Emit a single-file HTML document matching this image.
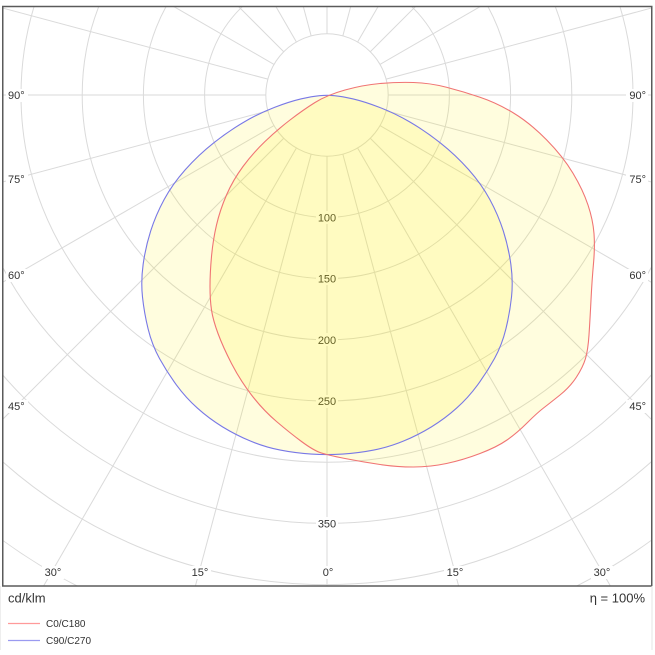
<!DOCTYPE html>
<html>
<head>
<meta charset="utf-8">
<style>
  html, body { margin: 0; padding: 0; background: #ffffff; width: 655px; height: 655px; overflow: hidden; }
  svg { display: block; }
  text { font-family: "Liberation Sans", "DejaVu Sans", sans-serif; fill: #333333; }
</style>
</head>
<body>
<svg width="655" height="655" viewBox="0 0 655 655" xmlns="http://www.w3.org/2000/svg">
  <defs>
    <clipPath id="frame">
      <rect x="3" y="7" width="648" height="579"/>
    </clipPath>
    <path id="blue" d="M319.55,95.65 Q327,95 334.45,95.65 Q341.9,96.3 353.15,98.95 Q364.4,101.6 379.5,107.35 Q394.6,113.1 409.65,121.85 Q424.7,130.6 440.2,142.8 Q455.7,155 468.65,169.65 Q481.6,184.3 489.9,199.6 Q498.2,214.9 503.35,231.1 Q508.5,247.3 510.85,264.25 Q513.2,281.2 511.5,297.05 Q509.8,312.9 505.9,328.9 Q502,344.9 494.5,358.5 Q487,372.1 477.6,384.9 Q468.2,397.7 456.5,408.2 Q444.8,418.7 431.45,426.85 Q418.1,435 403.6,441.05 Q389.1,447.1 373.7,450.1 Q358.3,453.1 342.65,454.05 Q327,455 311.35,454.05 Q295.7,453.1 280.3,450.1 Q264.9,447.1 250.4,441.05 Q235.9,435 222.55,426.85 Q209.2,418.7 197.5,408.2 Q185.8,397.7 176.4,384.9 Q167,372.1 159.5,358.5 Q152,344.9 148.1,328.9 Q144.2,312.9 142.5,297.05 Q140.8,281.2 143.15,264.25 Q145.5,247.3 150.65,231.1 Q155.8,214.9 164.1,199.6 Q172.4,184.3 185.35,169.65 Q198.3,155 213.8,142.8 Q229.3,130.6 244.35,121.85 Q259.4,113.1 274.5,107.35 Q289.6,101.6 300.85,98.95 Q312.1,96.3 319.55,95.65 Z"/>
    <path id="red" d="M315,102.5 Q327,95 345,90 Q363,85 380,83.5 Q397,82 413.5,82.5 Q430,83 446.5,87.25 Q463,91.5 480,97.25 Q497,103 513.5,113 Q530,123 546.5,139.75 Q563,156.5 573,173.25 Q583,190 588,205 Q593,220 594,233.5 Q595,247 593.5,263.5 Q592,280 591,300 Q590,320 589,335 Q588,350 585.5,358.5 Q583,367 576.5,377 Q570,387 560,395 Q550,403 543.5,408 Q537,413 527,423 Q517,433 507,440 Q497,447 480,453.5 Q463,460 446.5,463.5 Q430,467 413.5,467 Q397,467 380,464.5 Q363,462 345,458.5 Q327,455 320,452.5 Q313,450 301.5,441.5 Q290,433 276.5,421.5 Q263,410 251.5,395 Q240,380 231.5,363.5 Q223,347 218,333.5 Q213,320 211.5,310 Q210,300 210,286.5 Q210,273 211.5,256.5 Q213,240 216.5,225 Q220,210 226.5,195 Q233,180 243,166.5 Q253,153 265,141.5 Q277,130 290,120 Q303,110 315,102.5 Z"/>
  </defs>
  <rect x="0" y="0" width="655" height="655" fill="#ffffff"/>

  <g clip-path="url(#frame)">
    <!-- grid -->
    <g transform="translate(327,95)" stroke="#dadada" stroke-width="1" fill="none">
      <circle cx="0" cy="0" r="61.2"/>
      <circle cx="0" cy="0" r="122.4"/>
      <circle cx="0" cy="0" r="183.6"/>
      <circle cx="0" cy="0" r="244.8"/>
      <circle cx="0" cy="0" r="306"/>
      <circle cx="0" cy="0" r="367.2"/>
      <circle cx="0" cy="0" r="428.4"/>
      <circle cx="0" cy="0" r="489.6"/>
      <circle cx="0" cy="0" r="550.8"/>

      <line x1="0" y1="61.2" x2="0" y2="492"/>
      <line x1="15.84" y1="59.11" x2="131.9" y2="492"/>
      <line x1="-15.84" y1="59.11" x2="-131.9" y2="492"/>
      <line x1="30.6" y1="53" x2="284" y2="492"/>
      <line x1="-30.6" y1="53" x2="-284" y2="492"/>
      <line x1="43.27" y1="43.27" x2="325" y2="325"/>
      <line x1="-43.27" y1="43.27" x2="-325" y2="325"/>
      <line x1="53" y1="30.6" x2="325" y2="187.6"/>
      <line x1="-53" y1="30.6" x2="-325" y2="187.6"/>
      <line x1="59.11" y1="15.84" x2="325" y2="87.1"/>
      <line x1="-59.11" y1="15.84" x2="-325" y2="87.1"/>
      <line x1="61.2" y1="0" x2="325" y2="0"/>
      <line x1="-61.2" y1="0" x2="-325" y2="0"/>
      <line x1="59.11" y1="-15.84" x2="325" y2="-87.1"/>
      <line x1="-59.11" y1="-15.84" x2="-325" y2="-87.1"/>
      <line x1="53" y1="-30.6" x2="154.2" y2="-89"/>
      <line x1="-53" y1="-30.6" x2="-154.2" y2="-89"/>
      <line x1="43.27" y1="-43.27" x2="89" y2="-89"/>
      <line x1="-43.27" y1="-43.27" x2="-89" y2="-89"/>
      <line x1="30.6" y1="-53" x2="51.4" y2="-89"/>
      <line x1="-30.6" y1="-53" x2="-51.4" y2="-89"/>
      <line x1="15.84" y1="-59.11" x2="23.85" y2="-89"/>
      <line x1="-15.84" y1="-59.11" x2="-23.85" y2="-89"/>
      <line x1="0" y1="-61.2" x2="0" y2="-89"/>
    </g>

    <!-- value labels -->
    <g fill="#ffffff">
      <rect x="316" y="211" width="22" height="13"/>
      <rect x="316" y="272" width="22" height="13"/>
      <rect x="316" y="333" width="22" height="13"/>
      <rect x="316" y="395" width="22" height="13"/>
      <rect x="316" y="517" width="22" height="13"/>
    </g>
    <g font-size="11" text-anchor="middle">
      <text x="327" y="221.5">100</text>
      <text x="327" y="282.7">150</text>
      <text x="327" y="343.9">200</text>
      <text x="327" y="405.1">250</text>
      <text x="327" y="527.6">350</text>
    </g>

    <!-- angle labels -->
    <g fill="#ffffff">
      <rect x="6" y="89" width="22" height="13"/>
      <rect x="6" y="173" width="22" height="13"/>
      <rect x="6" y="269" width="22" height="13"/>
      <rect x="6" y="400" width="22" height="13"/>
      <rect x="626" y="89" width="22" height="13"/>
      <rect x="626" y="173" width="22" height="13"/>
      <rect x="626" y="269" width="22" height="13"/>
      <rect x="626" y="400" width="22" height="13"/>
      <rect x="42" y="566" width="22" height="13"/>
      <rect x="189" y="566" width="22" height="13"/>
      <rect x="320" y="566" width="15" height="13"/>
      <rect x="444" y="566" width="22" height="13"/>
      <rect x="591" y="566" width="22" height="13"/>
    </g>
    <g font-size="11">
      <text x="8" y="99">90°</text>
      <text x="8" y="183">75°</text>
      <text x="8" y="279">60°</text>
      <text x="8" y="410">45°</text>
      <text x="646" y="99" text-anchor="end">90°</text>
      <text x="646" y="183" text-anchor="end">75°</text>
      <text x="646" y="279" text-anchor="end">60°</text>
      <text x="646" y="410" text-anchor="end">45°</text>
      <text x="53" y="576" text-anchor="middle">30°</text>
      <text x="200" y="576" text-anchor="middle">15°</text>
      <text x="328" y="576" text-anchor="middle">0°</text>
      <text x="455" y="576" text-anchor="middle">15°</text>
      <text x="602" y="576" text-anchor="middle">30°</text>
    </g>

    <!-- fills -->
    <use href="#blue" fill="rgb(255,240,0)" fill-opacity="0.13" stroke="none"/>
    <use href="#red" fill="rgb(255,240,0)" fill-opacity="0.13" stroke="none"/>

    <!-- outlines -->
    <use href="#blue" fill="none" stroke="#7878e6" stroke-width="1.1"/>
    <use href="#red" fill="none" stroke="#f07474" stroke-width="1.1"/>
  </g>

  <!-- frame -->
  <rect x="2.75" y="6.5" width="649" height="579.5" fill="none" stroke="#5a5a5a" stroke-width="1.5"/>
  <line x1="652" y1="586" x2="652" y2="650" stroke="#e6e6e6" stroke-width="1"/>
  <line x1="0.5" y1="586" x2="0.5" y2="650" stroke="#eeeeee" stroke-width="1"/>

  <!-- footer -->
  <text x="8" y="602.5" font-size="13">cd/klm</text>
  <text x="645" y="602.5" font-size="13" text-anchor="end">η = 100%</text>

  <line x1="8" y1="623.5" x2="40" y2="623.5" stroke="#ff9a9a" stroke-width="1.3"/>
  <text x="46" y="627" font-size="10">C0/C180</text>
  <line x1="8" y1="640.5" x2="40" y2="640.5" stroke="#9a9af0" stroke-width="1.3"/>
  <text x="46" y="644" font-size="10">C90/C270</text>
</svg>
</body>
</html>
